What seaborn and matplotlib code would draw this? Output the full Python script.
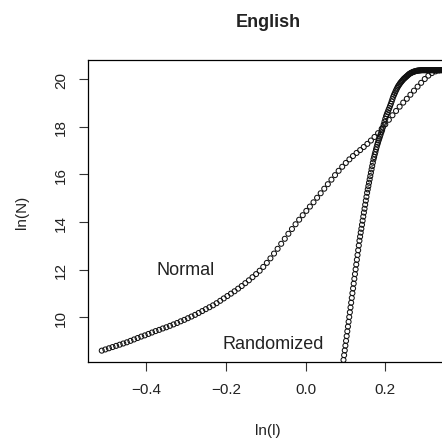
import matplotlib
matplotlib.use("Agg")
import matplotlib.pyplot as plt
import seaborn as sns
import pandas as pd

# ---- data ----
normal_x = [-0.511, -0.502, -0.493, -0.484, -0.475, -0.466, -0.457, -0.448, -0.439, -0.430,
            -0.421, -0.412, -0.403, -0.394, -0.385, -0.376, -0.367, -0.358, -0.349, -0.340,
            -0.331, -0.322, -0.313, -0.304, -0.295, -0.286, -0.277, -0.268, -0.259, -0.250,
            -0.241, -0.232, -0.223, -0.214, -0.205, -0.196, -0.187, -0.178, -0.169, -0.160,
            -0.151, -0.142, -0.133, -0.124, -0.115, -0.106, -0.097, -0.088, -0.079, -0.070,
            -0.061, -0.052, -0.043, -0.034, -0.025, -0.016, -0.007, 0.002, 0.011, 0.020,
            0.029, 0.038, 0.047, 0.056, 0.065, 0.074, 0.083, 0.092, 0.101, 0.110,
            0.119, 0.128, 0.137, 0.146, 0.155, 0.164, 0.173, 0.182, 0.191, 0.200,
            0.209, 0.218, 0.227, 0.236, 0.245, 0.254, 0.263, 0.272, 0.281, 0.290,
            0.299, 0.308, 0.317, 0.326, 0.335, 0.344, 0.353]
normal_y = [8.61, 8.66, 8.71, 8.76, 8.81, 8.86, 8.91, 8.96, 9.02, 9.08,
            9.14, 9.20, 9.25, 9.31, 9.37, 9.43, 9.48, 9.54, 9.59, 9.65,
            9.71, 9.77, 9.84, 9.90, 9.97, 10.04, 10.11, 10.19, 10.27, 10.35,
            10.43, 10.51, 10.60, 10.70, 10.80, 10.90, 11.00, 11.10, 11.21, 11.32,
            11.44, 11.56, 11.69, 11.82, 11.96, 12.12, 12.29, 12.48, 12.68, 12.88,
            13.09, 13.30, 13.51, 13.71, 13.91, 14.10, 14.29, 14.47, 14.65, 14.83,
            15.02, 15.21, 15.40, 15.59, 15.78, 15.97, 16.15, 16.32, 16.48, 16.63,
            16.77, 16.90, 17.02, 17.15, 17.28, 17.42, 17.57, 17.73, 17.91, 18.10,
            18.29, 18.48, 18.66, 18.84, 19.01, 19.17, 19.34, 19.51, 19.68, 19.84,
            20.00, 20.14, 20.25, 20.32, 20.36, 20.37, 20.37]

random_x = [0.0952, 0.0968, 0.0984, 0.1000, 0.1016, 0.1032, 0.1048, 0.1064, 0.1080, 0.1096,
            0.1112, 0.1128, 0.1144, 0.1160, 0.1176, 0.1192, 0.1208, 0.1224, 0.1240, 0.1256,
            0.1272, 0.1288, 0.1304, 0.1320, 0.1336, 0.1352, 0.1368, 0.1384, 0.1400, 0.1416,
            0.1432, 0.1448, 0.1464, 0.1480, 0.1496, 0.1512, 0.1528, 0.1544, 0.1560, 0.1576,
            0.1592, 0.1608, 0.1624, 0.1640, 0.1656, 0.1672, 0.1688, 0.1704, 0.1720, 0.1736,
            0.1752, 0.1768, 0.1784, 0.1800, 0.1816, 0.1832, 0.1848, 0.1864, 0.1880, 0.1900,
            0.1920, 0.1940, 0.1960, 0.1980, 0.2000, 0.2020, 0.2040, 0.2060, 0.2080, 0.2100,
            0.2120, 0.2140, 0.2160, 0.2180, 0.2200, 0.2220, 0.2240, 0.2260, 0.2280, 0.2300,
            0.2320, 0.2340, 0.2360, 0.2380, 0.2400, 0.2420, 0.2440, 0.2460, 0.2480, 0.2500,
            0.2520, 0.2540, 0.2560, 0.2580, 0.2600, 0.2620, 0.2640, 0.2660, 0.2680, 0.2700,
            0.2720, 0.2740, 0.2760, 0.2780, 0.2800, 0.2820, 0.2840, 0.2860, 0.2880, 0.2900,
            0.2920, 0.2940, 0.2960, 0.2980, 0.3000, 0.3020, 0.3040, 0.3060, 0.3080, 0.3100,
            0.3120, 0.3140, 0.3160, 0.3180, 0.3200, 0.3220, 0.3240, 0.3260, 0.3280, 0.3300,
            0.3320, 0.3340, 0.3360, 0.3380, 0.3400, 0.3420, 0.3440, 0.3460, 0.3480, 0.3500,
            0.3520, 0.3540, 0.3560, 0.3580, 0.3600]
random_y = [8.22, 8.42, 8.62, 8.82, 9.02, 9.22, 9.42, 9.62, 9.82, 10.02,
            10.22, 10.42, 10.62, 10.82, 11.02, 11.22, 11.42, 11.62, 11.82, 12.02,
            12.22, 12.42, 12.62, 12.82, 13.02, 13.22, 13.39, 13.56, 13.72, 13.89,
            14.06, 14.23, 14.40, 14.56, 14.73, 14.90, 15.06, 15.23, 15.37, 15.51,
            15.65, 15.79, 15.93, 16.07, 16.21, 16.35, 16.49, 16.63, 16.73, 16.84,
            16.94, 17.05, 17.15, 17.25, 17.33, 17.42, 17.50, 17.58, 17.66, 17.76,
            17.85, 17.97, 18.09, 18.21, 18.33, 18.44, 18.53, 18.61, 18.70, 18.78,
            18.87, 18.96, 19.06, 19.16, 19.26, 19.34, 19.41, 19.49, 19.56, 19.63,
            19.69, 19.74, 19.79, 19.84, 19.88, 19.92, 19.96, 20.00, 20.03, 20.06,
            20.09, 20.12, 20.15, 20.18, 20.21, 20.23, 20.25, 20.27, 20.28, 20.30,
            20.31, 20.32, 20.33, 20.34, 20.35, 20.35, 20.36, 20.36, 20.36, 20.37,
            20.37, 20.37, 20.37, 20.37, 20.37, 20.37, 20.37, 20.37, 20.37, 20.37,
            20.37, 20.37, 20.37, 20.37, 20.37, 20.37, 20.37, 20.37, 20.37, 20.37,
            20.37, 20.37, 20.37, 20.37, 20.37, 20.37, 20.37, 20.37, 20.37, 20.37,
            20.37, 20.37, 20.37, 20.37, 20.37]

x_ticks = [-0.4, -0.2, 0.0, 0.2]
x_tick_labels = ["\u22120.4", "\u22120.2", "0.0", "0.2"]
y_ticks = [10, 12, 14, 16, 18, 20]
y_tick_labels = ["10", "12", "14", "16", "18", "20"]

title = "English"
x_label = "ln(l)"
y_label = "ln(N)"
annotations = [("Normal", -0.30, 12.0), ("Randomized", -0.08, 8.92)]

# ---- plotting ----
sns.set_theme(style="ticks")
plt.rcParams["font.family"] = ["Liberation Sans", "DejaVu Sans"]

W, H = 442, 439
fig = plt.figure(figsize=(W / 100, H / 100), dpi=100)
left_px, right_px, top_px, bottom_px = 88, 448, 61, 363
ax_w, ax_h = right_px - left_px, bottom_px - top_px
ax = fig.add_axes([left_px / W, 1 - bottom_px / H, ax_w / W, ax_h / H])

df_n = pd.DataFrame({"x": normal_x, "y": normal_y})
df_r = pd.DataFrame({"x": random_x, "y": random_y})
for df in (df_n, df_r):
    sns.scatterplot(data=df, x="x", y="y", ax=ax, marker="o", s=13,
                    facecolor="none", edgecolor="#111111", linewidth=0.75)

ax.set_xlim(-0.5455, 0.3573)
ax.set_ylim(8.134, 20.797)
ax.set_xticks(x_ticks)
ax.set_xticklabels(x_tick_labels)
ax.set_yticks(y_ticks)
ax.set_yticklabels(y_tick_labels, rotation=90, va="center")

for sp in ax.spines.values():
    sp.set_color("black")
    sp.set_linewidth(0.9)
ax.tick_params(axis="both", direction="out", length=6.5, width=0.8,
               color="#333333", labelsize=11, labelcolor="#222222")
ax.tick_params(axis="x", pad=8)
ax.tick_params(axis="y", pad=8)

ax.set_xlabel(x_label, fontsize=11, color="#222222")
ax.xaxis.set_label_coords(0.5, (bottom_px - 431) / ax_h)
ax.xaxis.label.set_va("center")
ax.set_ylabel(y_label, fontsize=11, color="#222222")
ax.yaxis.set_label_coords((22 - left_px) / ax_w, 0.5)
ax.yaxis.label.set_va("center")
ax.set_title(title, fontsize=13, fontweight="bold", pad=0,
             y=(bottom_px - 27) / ax_h, color="#222222")

for txt, tx, ty in annotations:
    ax.text(tx, ty, txt, fontsize=13, ha="center", va="center", color="#222222")

fig.savefig("out.png", dpi=100)
